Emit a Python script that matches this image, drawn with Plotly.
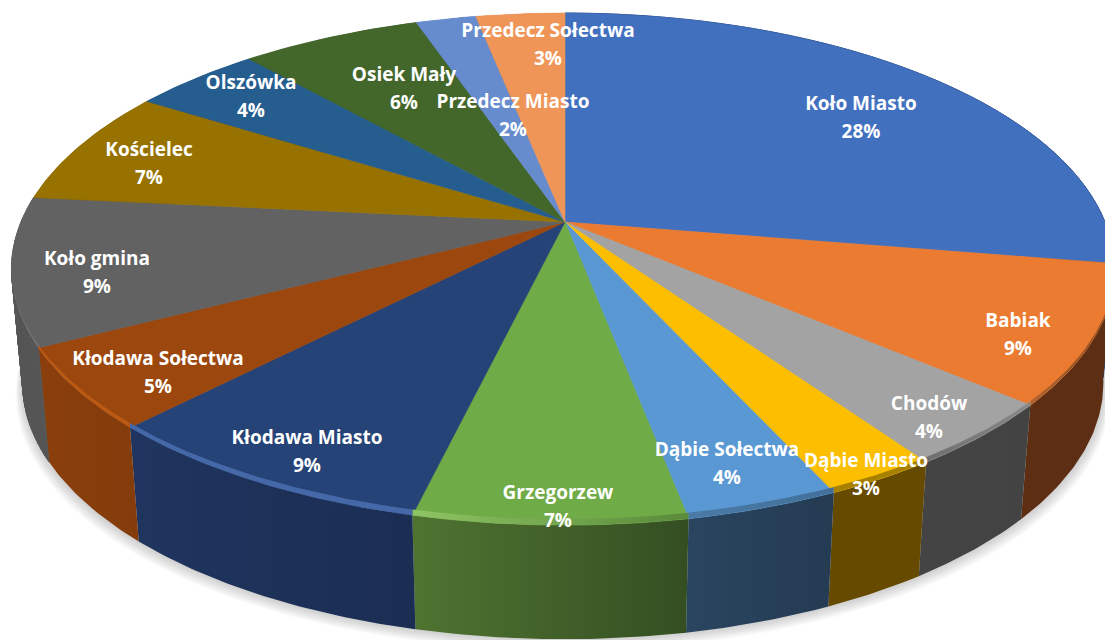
import numpy as np
import plotly.graph_objects as go

# ---- data
categories = ["Koło Miasto", "Babiak", "Chodów", "Dąbie Miasto", "Dąbie Sołectwa", "Grzegorzew",
              "Kłodawa Miasto", "Kłodawa Sołectwa", "Koło gmina", "Kościelec", "Olszówka",
              "Osiek Mały", "Przedecz Miasto", "Przedecz Sołectwa"]
shares = [27.6, 8.7, 4.1, 2.8, 3.8, 6.7, 8.5, 5.1, 9.3, 7.4, 4.5, 6.3, 2.1, 3.1]
pct_labels = ["28%", "9%", "4%", "3%", "4%", "7%", "9%", "5%", "9%", "7%", "4%", "6%", "2%", "3%"]

# ---- styles
top_colors = ["#4170BF", "#EB7B30", "#A3A3A3", "#FBBE00", "#5A98D4", "#6FAB46", "#254376",
              "#9C470E", "#626262", "#977200", "#255D8F", "#43672B", "#678CCE", "#EF9558"]
side_left = ["#29457A", "#5E2E13", "#444444", "#664A00", "#2A4560", "#4F7431", "#1F355F",
             "#8A3F0C", "#505050", "#6E5300", "#1B446A", "#30491F", "#4A6494", "#A96A3F"]
side_right = ["#29457A", "#5C2E14", "#434343", "#654A00", "#243B52", "#344E22", "#1B2D52",
              "#843C0C", "#5E5E5E", "#6E5300", "#1B446A", "#30491F", "#4A6494", "#A96A3F"]
bevel_left = ["#4170BF", "#B0642F", "#6E6E6E", "#A88000", "#4A7AA6", "#8FC464", "#4468A8",
              "#BC5A14", "#6F6F6F", "#977200", "#255D8F", "#43672B", "#678CCE", "#EF9558"]
bevel_right = ["#34599A", "#8A4A1E", "#8A8A8A", "#A88000", "#42709A", "#5A8A3A", "#4468A8",
               "#BC5A14", "#767676", "#977200", "#255D8F", "#43672B", "#678CCE", "#EF9558"]
name_x = [861, 1018, 929, 866, 727, 558, 307, 158, 97, 149, 251, 404, 513, 548]
name_y = [105, 322, 405, 462, 451, 494, 439, 360, 260, 151, 84, 76, 103, 32]
pct_gap = 28
flat_walls = {0, 8}  # slices whose wall reaches the side silhouette

# ---- projection of the unit disc on the page (perspective tilt)
CX, CY, A_RIGHT, A_LEFT, B, K = 565.0, 222.0, 540.0, 544.0, 247.4, 0.184
DROP, SHRINK = 114.0, 0.98
BEVEL_PX = 6.0


def project(theta):
    ux = np.sin(theta)
    uy = -np.cos(theta)
    w = 1 - K * uy
    return CX + np.where(ux > 0, A_RIGHT, A_LEFT) * ux / w, CY + B * uy / w


def project_low(theta):
    x, y = project(theta)
    return CX + (x - CX) * SHRINK, y + DROP


edges = np.cumsum([0.0] + shares) / sum(shares) * 2 * np.pi
spans = [np.linspace(a, b, max(8, int((b - a) * 90))) for a, b in zip(edges[:-1], edges[1:])]
full = np.linspace(0, 2 * np.pi, 361)
common = dict(hoverinfo="skip", showlegend=False)

fig = go.Figure()

# soft shadow
for i in range(1, 9):
    sx, sy = project_low(full)
    sx = CX + (sx - CX) * (1 + 0.0016 * i)
    fig.add_trace(go.Scatter(x=sx, y=sy + 1.4 * i, mode="lines", fill="toself",
                             fillcolor="rgba(90,90,90,0.035)", line=dict(width=0), **common))

# outer wall
for i in range(len(shares)):
    th = spans[i]
    xt, yt = project(th)
    xb, yb = project_low(th)
    if i in flat_walls:
        # small quads keep the silhouette straight where the wall turns away
        wx, wy = [], []
        for j in range(len(th) - 1):
            wx += [xt[j], xt[j + 1], xb[j + 1], xb[j], xt[j], None]
            wy += [yt[j], yt[j + 1], yb[j + 1], yb[j], yt[j], None]
        flat = "#555555" if i == 8 else side_right[i]
        fig.add_trace(go.Scatter(x=wx, y=wy, mode="lines", fill="toself", fillcolor=flat,
                                 line=dict(width=1, color=flat), **common))
    else:
        fig.add_trace(go.Scatter(
            x=np.r_[xt, xb[::-1], xt[0]], y=np.r_[yt, yb[::-1], yt[0]],
            mode="lines", fill="toself", line=dict(width=0),
            fillgradient=dict(type="horizontal",
                              colorscale=[[0, side_left[i]], [1, side_right[i]]]),
            **common))

# top face
for i in range(len(shares)):
    th = spans[i]
    xt, yt = project(th)
    fig.add_trace(go.Scatter(
        x=np.r_[CX, xt, CX], y=np.r_[CY, yt, CY],
        mode="lines", fill="toself", fillcolor=top_colors[i],
        line=dict(width=0.6, color=top_colors[i]), **common))

# bevel along the front of the rim (thins out towards the sides)
for i in range(len(shares)):
    th = spans[i]
    xo, yo = project(th)
    lift = BEVEL_PX * np.clip(-np.cos(th), 0, 1)
    fig.add_trace(go.Scatter(
        x=np.r_[xo, xo[::-1], xo[0]], y=np.r_[yo, (yo - lift)[::-1], yo[0]],
        mode="lines", fill="toself", line=dict(width=0),
        fillgradient=dict(type="horizontal",
                          colorscale=[[0, bevel_left[i]], [1, bevel_right[i]]]),
        **common))

# labels
font = dict(family="Open Sans", size=19, color="white", weight=700)
fig.add_trace(go.Scatter(x=name_x, y=name_y, mode="text", text=categories, textfont=font,
                         textposition="middle center", **common))
fig.add_trace(go.Scatter(x=name_x, y=[v + pct_gap for v in name_y], mode="text", text=pct_labels,
                         textfont=font, textposition="middle center", **common))

fig.update_layout(
    width=1105, height=640, margin=dict(l=0, r=0, t=0, b=0),
    paper_bgcolor="white", plot_bgcolor="white", showlegend=False,
    xaxis=dict(range=[0, 1105], visible=False, fixedrange=True),
    yaxis=dict(range=[640, 0], visible=False, fixedrange=True),
)
fig.write_html("out.html", config=dict(displayModeBar=False),
               post_script="document.body.style.margin='0';document.body.style.overflow='hidden';")
